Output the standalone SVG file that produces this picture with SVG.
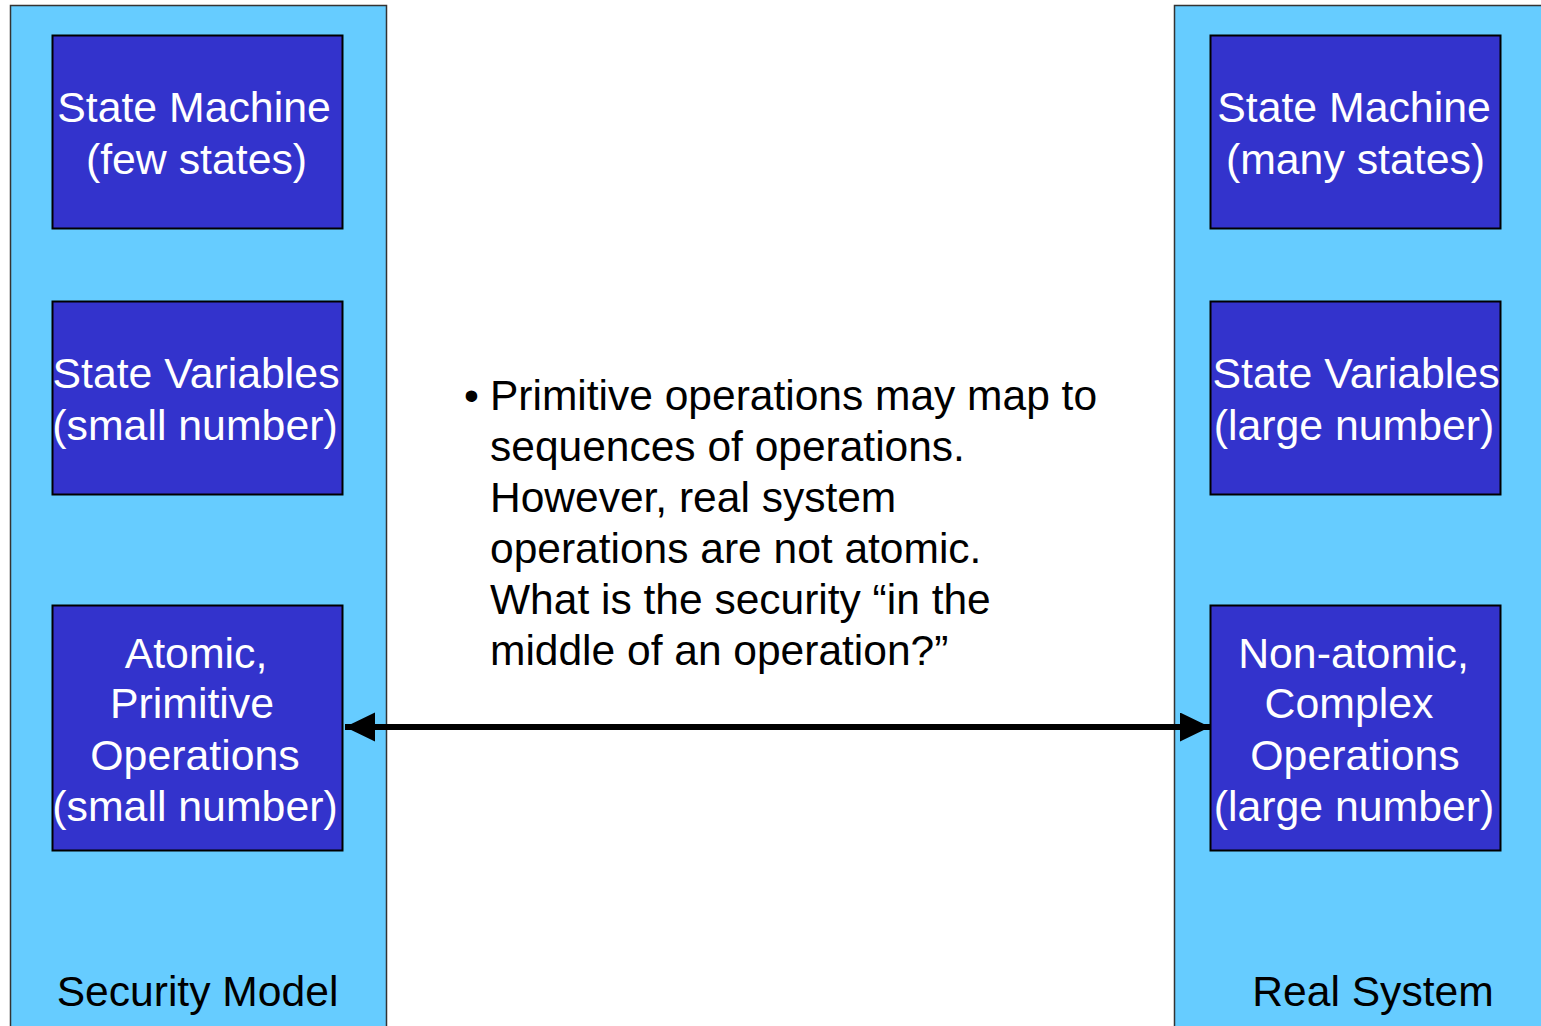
<svg xmlns="http://www.w3.org/2000/svg" width="1541" height="1026" viewBox="0 0 1541 1026">
<style>
.panel{fill:#66CCFF;stroke:#333333;stroke-width:1.5}
.box{fill:#3333CC;stroke:#000000;stroke-width:2}
.bt{font-family:"Liberation Sans",Arial,sans-serif;font-size:42.8px;fill:#FFFFFF;text-anchor:middle}
.lbl{font-family:"Liberation Sans",Arial,sans-serif;font-size:42.6px;fill:#000000;text-anchor:middle}
.body{font-family:"Liberation Sans",Arial,sans-serif;font-size:42.5px;fill:#000000}
</style>
<defs>
<marker id="ah" markerUnits="userSpaceOnUse" markerWidth="30" markerHeight="30" viewBox="0 0 30 30" refX="30" refY="14.5" orient="auto-start-reverse">
<path d="M0,0 L30,14.5 L0,29 z" fill="#000000"/>
</marker>
</defs>
<rect width="1541" height="1026" fill="#FFFFFF"/>
<g id="security-model">
<rect class="panel" x="10.5" y="5.5" width="376" height="1030"/>
<text class="lbl" x="197.5" y="1006">Security Model</text>
</g>
<g id="real-system">
<rect class="panel" x="1174.5" y="5.5" width="380" height="1030"/>
<text class="lbl" x="1373" y="1006">Real System</text>
</g>
<g id="sm-few">
<rect class="box" x="52.5" y="35.5" width="290" height="193"/>
<text class="bt" x="194" y="122">State Machine</text>
<text class="bt" x="196.5" y="174">(few states)</text>
</g>
<g id="sv-small">
<rect class="box" x="52.5" y="301.5" width="290" height="193"/>
<text class="bt" x="196" y="388">State Variables</text>
<text class="bt" x="195" y="440">(small number)</text>
</g>
<g id="ops-atomic">
<rect class="box" x="52.5" y="605.5" width="290" height="245"/>
<text class="bt" x="196" y="668">Atomic,</text>
<text class="bt" x="192" y="718">Primitive</text>
<text class="bt" x="195" y="770">Operations</text>
<text class="bt" x="195" y="821">(small number)</text>
</g>
<g id="sm-many">
<rect class="box" x="1210.5" y="35.5" width="290" height="193"/>
<text class="bt" x="1354" y="122">State Machine</text>
<text class="bt" x="1355.5" y="174">(many states)</text>
</g>
<g id="sv-large">
<rect class="box" x="1210.5" y="301.5" width="290" height="193"/>
<text class="bt" x="1356" y="388">State Variables</text>
<text class="bt" x="1354" y="440">(large number)</text>
</g>
<g id="ops-complex">
<rect class="box" x="1210.5" y="605.5" width="290" height="245"/>
<text class="bt" x="1353.5" y="668">Non-atomic,</text>
<text class="bt" x="1349" y="718">Complex</text>
<text class="bt" x="1355" y="770">Operations</text>
<text class="bt" x="1354" y="821">(large number)</text>
</g>
<g id="note">
<text class="body" x="464" y="410">•</text>
<text class="body" x="490" y="410">Primitive operations may map to</text>
<text class="body" x="490" y="461">sequences of operations.</text>
<text class="body" x="490" y="512">However, real system</text>
<text class="body" x="490" y="563">operations are not atomic.</text>
<text class="body" x="490" y="614">What is the security “in the</text>
<text class="body" x="490" y="665">middle of an operation?”</text>
</g>
<g id="connectors">
<line x1="345" y1="727" x2="1210" y2="727" stroke="#000000" stroke-width="6" marker-start="url(#ah)" marker-end="url(#ah)"/>
</g>
</svg>
